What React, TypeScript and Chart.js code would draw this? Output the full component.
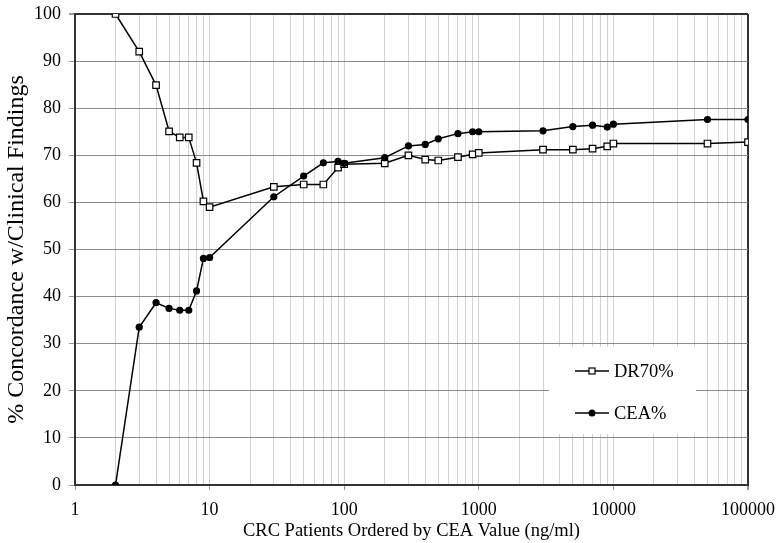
import React, { useEffect, useRef } from "react";
import { Chart, registerables } from "chart.js";

Chart.register(...registerables);

// ---- data ----
const ceaValues: number[] = [2, 3, 4, 5, 6, 7, 8, 9, 10, 30, 50, 70, 90, 100, 200, 300, 400, 500, 700, 900, 1000, 3000, 5000, 7000, 9000, 10000, 50000, 100000];
const dr70Pct: number[] = [100, 92, 84.9, 75.1, 73.8, 73.8, 68.4, 60.2, 59.0, 63.3, 63.8, 63.8, 67.4, 68.1, 68.3, 70.0, 69.1, 68.9, 69.6, 70.2, 70.5, 71.2, 71.2, 71.4, 71.9, 72.5, 72.5, 72.8];
const ceaPct: number[] = [0, 33.5, 38.7, 37.5, 37.1, 37.1, 41.2, 48.1, 48.3, 61.2, 65.6, 68.4, 68.7, 68.3, 69.5, 72.0, 72.3, 73.5, 74.6, 75.0, 75.0, 75.2, 76.1, 76.4, 76.0, 76.6, 77.6, 77.6];
const seriesLabels: string[] = ["DR70%", "CEA%"];
const xTickValues: number[] = [1, 10, 100, 1000, 10000, 100000];
const xTickLabels: string[] = ["1", "10", "100", "1000", "10000", "100000"];
const yTickValues: number[] = [0, 10, 20, 30, 40, 50, 60, 70, 80, 90, 100];
const xAxisTitle = "CRC Patients Ordered by CEA Value (ng/ml)";
const yAxisTitle = "% Concordance w/Clinical Findings";

const FONT = '"Liberation Serif", "Times New Roman", Times, serif';

// minor log grid positions 1..9 x 10^k
const gridValues: number[] = [];
for (let e = 0; e < 5; e++) {
  for (let m = 1; m < 10; m++) gridValues.push(m * Math.pow(10, e));
}
gridValues.push(100000);

const isDecade = (v: number) => xTickValues.indexOf(v) >= 0;

const boxLegend = {
  id: "boxLegend",
  beforeDatasetsDraw(chart: any) {
    const { ctx, chartArea: a } = chart;
    const bx = a.left + 474;
    const by = a.top + 333;
    const bw = 147;
    const bh = 87;
    ctx.save();
    ctx.fillStyle = "#ffffff";
    ctx.fillRect(bx, by, bw, bh);
    const rows = [by + 24, by + 66];
    chart.data.datasets.forEach((ds: any, i: number) => {
      const y = rows[i];
      ctx.strokeStyle = "#000";
      ctx.lineWidth = 1.5;
      ctx.beginPath();
      ctx.moveTo(bx + 26, y);
      ctx.lineTo(bx + 60, y);
      ctx.stroke();
      const cx = bx + 43;
      if (i === 0) {
        ctx.fillStyle = "#fff";
        ctx.fillRect(cx - 3, y - 3, 6, 6);
        ctx.lineWidth = 1.2;
        ctx.strokeRect(cx - 3, y - 3, 6, 6);
      } else {
        ctx.fillStyle = "#000";
        ctx.beginPath();
        ctx.arc(cx, y, 3.5, 0, Math.PI * 2);
        ctx.fill();
      }
      ctx.fillStyle = "#000";
      ctx.font = `18.5px ${FONT}`;
      ctx.textAlign = "left";
      ctx.textBaseline = "middle";
      ctx.fillText(ds.label, bx + 65, y + 1);
    });
    ctx.restore();
  },
};

export default function App() {
  const ref = useRef<HTMLCanvasElement | null>(null);

  useEffect(() => {
    if (!ref.current) return;
    Chart.defaults.font.family = FONT;
    Chart.defaults.color = "#000";
    const chart = new Chart(ref.current, {
      type: "line",
      data: {
        datasets: [
          {
            label: seriesLabels[0],
            data: ceaValues.map((x, i) => ({ x, y: dr70Pct[i] })),
            borderColor: "#000",
            borderWidth: 1.5,
            pointStyle: "rect",
            pointRadius: 4.6,
            pointBackgroundColor: "#fff",
            pointBorderColor: "#000",
            pointBorderWidth: 1.2,
            tension: 0,
            order: 1,
          },
          {
            label: seriesLabels[1],
            data: ceaValues.map((x, i) => ({ x, y: ceaPct[i] })),
            borderColor: "#000",
            borderWidth: 1.5,
            pointStyle: "circle",
            pointRadius: 3.6,
            pointBackgroundColor: "#000",
            pointBorderColor: "#000",
            pointBorderWidth: 0,
            tension: 0,
            order: 0,
          },
        ],
      },
      options: {
        responsive: false,
        animation: false,
        layout: { padding: { top: 14, right: 30, left: 0, bottom: 0 } },
        plugins: {
          legend: { display: false },
          tooltip: { enabled: false },
        },
        scales: {
          x: {
            type: "logarithmic",
            min: 1,
            max: 100000,
            afterBuildTicks: (scale: any) => {
              scale.ticks = gridValues.map((v) => ({ value: v }));
            },
            afterFit: (scale: any) => {
              scale.height = 58;
              scale.paddingLeft = 0;
              scale.paddingRight = 0;
            },
            ticks: {
              autoSkip: false,
              maxRotation: 0,
              padding: 9,
              font: { size: 18, family: FONT },
              color: "#000",
              callback: (value: any) => {
                const idx = xTickValues.indexOf(Number(value));
                return idx >= 0 ? xTickLabels[idx] : "";
              },
            },
            grid: {
              color: (c: any) => {
                const v = c.tick ? c.tick.value : 0;
                if (v === 100000) return "#333";
                return "#d2d2d2";
              },
              lineWidth: (c: any) => (c.tick && c.tick.value === 100000 ? 2 : 1),
              tickColor: (c: any) => (c.tick && isDecade(c.tick.value) ? "#999" : "rgba(0,0,0,0)"),
              tickLength: 5,
              drawTicks: true,
            },
            border: { display: true, color: "#333", width: 2 },
            title: {
              display: true,
              text: xAxisTitle,
              font: { size: 18.5, family: FONT },
              color: "#000",
              padding: { top: 0, bottom: 1 },
            },
          },
          y: {
            type: "linear",
            min: 0,
            max: 100,
            afterBuildTicks: (scale: any) => {
              scale.ticks = yTickValues.map((v) => ({ value: v }));
            },
            afterFit: (scale: any) => {
              scale.width = 75;
              scale.paddingTop = 0;
              scale.paddingBottom = 0;
            },
            ticks: {
              padding: 8,
              font: { size: 18, family: FONT },
              color: "#000",
            },
            grid: {
              color: (c: any) => {
                const v = c.tick ? c.tick.value : 0;
                if (v === 100) return "#333";
                return "#8c8c8c";
              },
              lineWidth: (c: any) => (c.tick && c.tick.value === 100 ? 2 : 1),
              tickColor: "#999",
              tickLength: 6,
            },
            border: { display: true, color: "#333", width: 2 },
            title: {
              display: true,
              text: yAxisTitle,
              font: { size: 24, family: FONT },
              color: "#000",
              padding: { top: 2, bottom: 0 },
            },
          },
        },
      },
      plugins: [boxLegend],
    } as any);
    return () => chart.destroy();
  }, []);

  return (
    <div style={{ position: "fixed", left: 0, top: 0, width: 778, height: 543, background: "#fff" }}>
      <canvas ref={ref} width={778} height={543} style={{ display: "block", width: 778, height: 543 }} />
    </div>
  );
}
